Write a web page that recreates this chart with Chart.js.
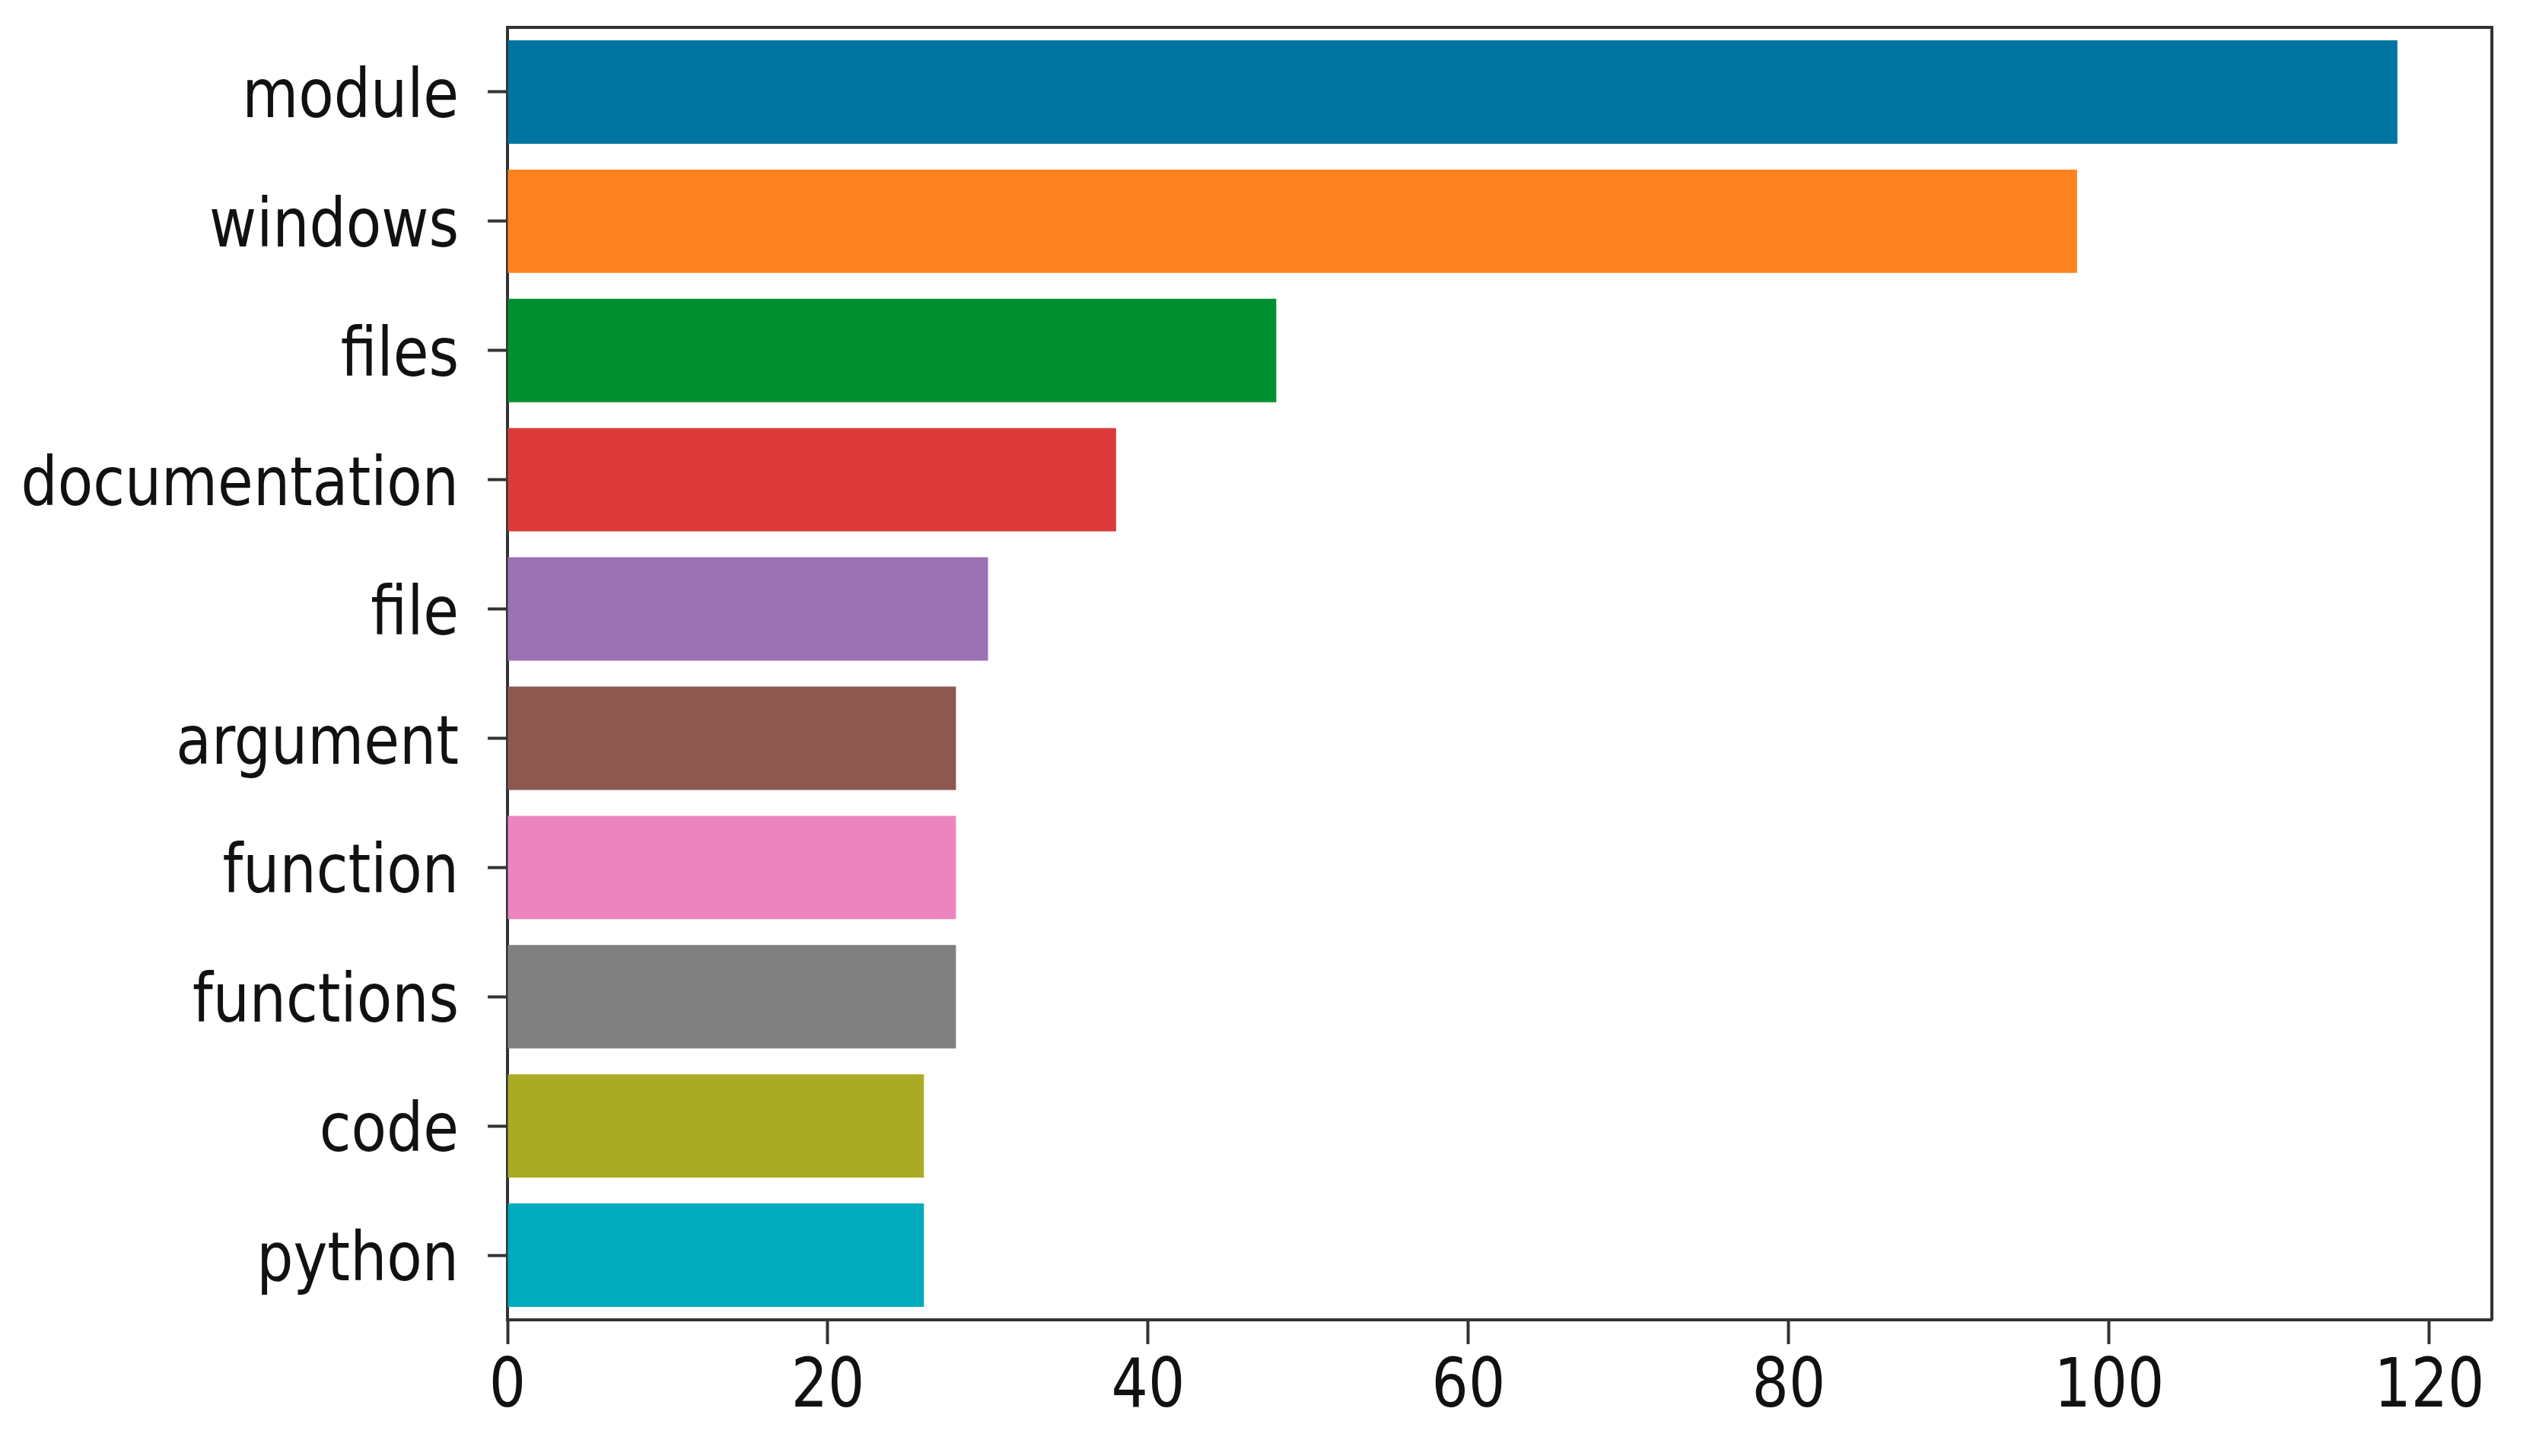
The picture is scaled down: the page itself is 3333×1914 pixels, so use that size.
<!DOCTYPE html>
<html>
<head>
<meta charset="utf-8">
<script src="https://cdn.jsdelivr.net/npm/chart.js@4/dist/chart.umd.min.js"></script>
<style>
    html, body { margin: 0; padding: 0; background: #fff; overflow: hidden; }
    canvas { display: block; }
</style>
</head>
<body>
<canvas id="chart" width="3333" height="1914"></canvas>
<script>
// Dados do gráfico
const words = ['module', 'windows', 'files', 'documentation', 'file', 'argument', 'function', 'functions', 'code', 'python'];
const counts = [118, 98, 48, 38, 30, 28, 28, 28, 26, 26];
const barColors = ['#0073a1', '#fd8320', '#008f30', '#dc3a3a', '#9c72b4', '#8c5850', '#ec84bf', '#808080', '#a9ab23', '#00abbb'];
const xTicks = [0, 20, 40, 60, 80, 100, 120];

const axisColor = '#333';
const font = { family: 'DejaVu Sans', size: 76 };
const textStretch = 1.17; // o texto da imagem original está esticado na vertical

// Estica o texto verticalmente em torno do ponto de ancoragem
const stretchTextPlugin = {
    id: 'stretchText',
    beforeDraw(chart) {
        const ctx = chart.ctx;
        if (ctx._stretched) return;
        const fill = ctx.fillText.bind(ctx);
        ctx.fillText = function(text, x, y, maxWidth) {
            ctx.save();
            ctx.translate(x, y);
            ctx.scale(1, textStretch);
            if (maxWidth === undefined) fill(text, 0, 0);
            else fill(text, 0, 0, maxWidth);
            ctx.restore();
        };
        ctx._stretched = true;
    }
};

// Moldura superior e direita (estilo matplotlib)
const framePlugin = {
    id: 'frame',
    afterDraw(chart) {
        const { ctx, chartArea: a } = chart;
        ctx.save();
        ctx.strokeStyle = axisColor;
        ctx.lineWidth = 4;
        ctx.beginPath();
        ctx.moveTo(a.left, a.top);
        ctx.lineTo(a.right, a.top);
        ctx.lineTo(a.right, a.bottom);
        ctx.stroke();
        ctx.restore();
    }
};

new Chart(document.getElementById('chart'), {
    type: 'bar',
    data: {
        labels: words,
        datasets: [{
            data: counts,
            backgroundColor: barColors,
            borderWidth: 0,
            barPercentage: 0.8,
            categoryPercentage: 1.0
        }]
    },
    options: {
        indexAxis: 'y',
        responsive: false,
        animation: false,
        devicePixelRatio: 1,
        layout: { padding: { top: 36, right: 58, left: 0, bottom: 0 } },
        plugins: {
            legend: { display: false },
            tooltip: { enabled: false }
        },
        scales: {
            x: {
                min: 0,
                max: Math.max(...counts) * 1.05,
                afterBuildTicks: scale => { scale.ticks = xTicks.map(v => ({ value: v })); },
                afterFit: scale => {
                    scale.height = 179;
                    scale.paddingLeft = 0;
                    scale.paddingRight = 0;
                },
                border: { display: true, color: axisColor, width: 4 },
                grid: { drawOnChartArea: false, drawTicks: true, tickLength: 32, tickWidth: 4, tickColor: axisColor },
                ticks: { font: font, color: '#111', padding: 13, maxRotation: 0 }
            },
            y: {
                afterFit: scale => {
                    scale.width = 667;
                    scale.paddingTop = 0;
                    scale.paddingBottom = 0;
                },
                border: { display: true, color: axisColor, width: 4 },
                grid: { offset: false, drawOnChartArea: false, drawTicks: true, tickLength: 26, tickWidth: 4, tickColor: axisColor },
                ticks: { font: font, color: '#111', padding: 38, labelOffset: 10 }
            }
        }
    },
    plugins: [stretchTextPlugin, framePlugin]
});
</script>
</body>
</html>
